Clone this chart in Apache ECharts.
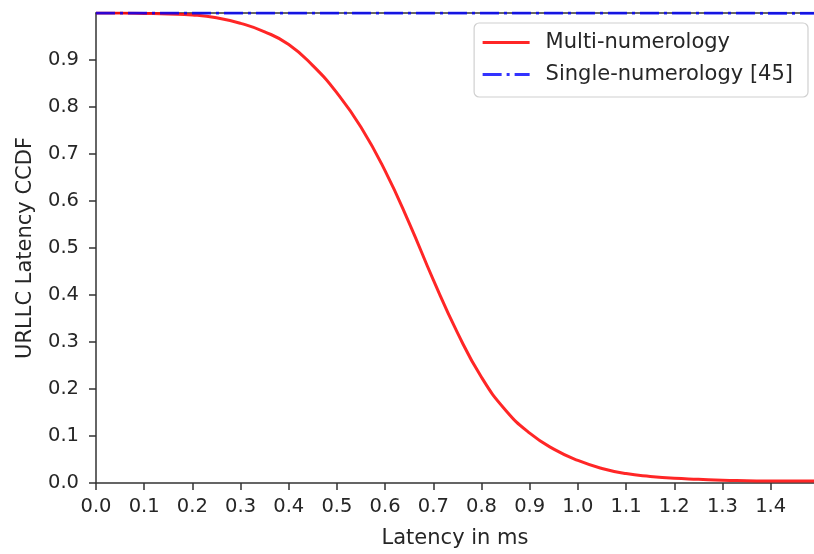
<!DOCTYPE html>
<html><head><meta charset="utf-8">
<script src="https://cdn.jsdelivr.net/npm/echarts@6/dist/echarts.min.js"></script>
<style>html,body{margin:0;padding:0;background:#fff}#c{width:814px;height:554px}</style>
</head><body><div id="c"></div>
<script>
const latencyX = [0.00,0.05,0.10,0.15,0.20,0.25,0.30,0.35,0.40,0.45,0.50,0.55,0.60,0.65,0.70,0.75,0.80,0.85,0.90,0.95,1.00,1.05,1.10,1.15,1.20,1.25,1.30,1.35,1.40,1.45,1.49];
const multiCCDF = [1.000,0.9998,0.999,0.998,0.996,0.990,0.978,0.960,0.933,0.888,0.830,0.757,0.664,0.553,0.432,0.320,0.225,0.155,0.106,0.072,0.048,0.031,0.020,0.014,0.010,0.008,0.006,0.005,0.004,0.004,0.004];
const singleX = [0.00,0.25,0.50,0.75,1.00,1.25,1.49];
const singleCCDF = [1.000,1.000,1.000,1.000,1.000,1.000,0.9995];
const seriesNames = ['Multi-numerology','Single-numerology [45]'];
const xTitle = 'Latency in ms';
const yTitle = 'URLLC Latency CCDF';

const font = 'DejaVu Sans';
const axisColor = '#333';
const textColor = '#262626';
const chart = echarts.init(document.getElementById('c'), null, {renderer:'canvas'});
chart.setOption({
  animation:false,
  backgroundColor:'#fff',
  grid:{left:96, right:0, top:13, bottom:69, containLabel:false},
  legend:{
    orient:'vertical', right:6, top:23,
    data:seriesNames,
    itemWidth:47, itemHeight:20, itemGap:11,
    padding:[9,15,12,7],
    borderColor:'#d0d0d0', borderWidth:1.2, borderRadius:5,
    backgroundColor:'rgba(255,255,255,0.8)',
    itemStyle:{color:'rgba(0,0,0,0)', borderWidth:0, opacity:0},
    lineStyle:{width:3},
    textStyle:{fontFamily:font, fontSize:21, color:textColor, padding:[0,0,0,11]}
  },
  xAxis:[{
    type:'value', min:0, max:1.49, interval:0.1,
    name:xTitle, nameLocation:'middle', nameGap:45,
    nameTextStyle:{fontFamily:font, fontSize:21, color:textColor},
    axisLine:{show:true, onZero:false, lineStyle:{color:axisColor, width:1.5}},
    axisTick:{show:true, length:7, lineStyle:{color:axisColor, width:1.5}},
    axisLabel:{fontFamily:font, fontSize:19.5, color:textColor, margin:14, showMaxLabel:false,
      formatter:v=>v.toFixed(1)},
    splitLine:{show:false}
  },{
    type:'value', position:'top', min:0, max:1.49,
    axisLine:{show:true, onZero:false, lineStyle:{color:axisColor, width:1.5}},
    axisTick:{show:false}, axisLabel:{show:false}, splitLine:{show:false}
  }],
  yAxis:{
    type:'value', min:0, max:1.0, interval:0.1,
    name:yTitle, nameLocation:'middle', nameGap:60,
    nameTextStyle:{fontFamily:font, fontSize:21, color:textColor},
    axisLine:{show:true, onZero:false, lineStyle:{color:axisColor, width:1.5}},
    axisTick:{show:true, length:7, lineStyle:{color:axisColor, width:1.5}},
    axisLabel:{fontFamily:font, fontSize:19.5, color:textColor, margin:17, showMaxLabel:false,
      formatter:v=>v.toFixed(1)},
    splitLine:{show:false}
  },
  series:[{
    name:seriesNames[0], type:'line', smooth:true, symbol:'none',
    data:latencyX.map((x,i)=>[x, multiCCDF[i]]),
    lineStyle:{color:'rgba(255,0,0,0.85)', width:3},
    itemStyle:{color:'rgba(255,0,0,0.85)'},
    z:3
  },{
    name:seriesNames[1], type:'line', symbol:'none',
    data:singleX.map((x,i)=>[x, singleCCDF[i]]),
    lineStyle:{color:'rgba(0,0,255,0.8)', width:3, type:[19,5,3,5]},
    itemStyle:{color:'rgba(0,0,255,0.8)'},
    z:4
  }]
});
</script></body></html>
